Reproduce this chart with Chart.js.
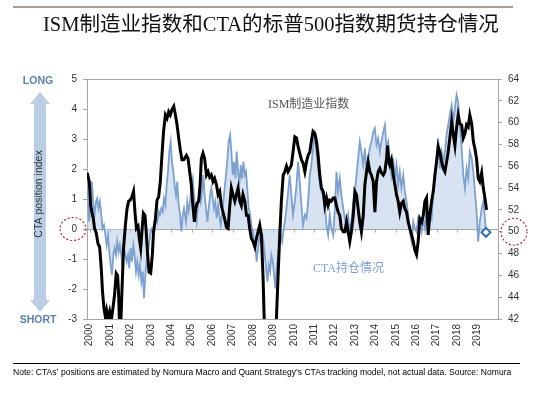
<!DOCTYPE html>
<html>
<head>
<meta charset="utf-8">
<script src="https://cdn.jsdelivr.net/npm/chart.js@4.4.1/dist/chart.umd.min.js"></script>
<style>
  html, body { margin: 0; padding: 0; background: #fff; }
  #wrap { position: relative; width: 550px; height: 393px; }
</style>
</head>
<body>
<div id="wrap"><canvas id="chart"></canvas></div>
<script>
// axis ticks
const yearLabels = [2000, 2001, 2002, 2003, 2004, 2005, 2006, 2007, 2008, 2009,
  2010, 2011, 2012, 2013, 2014, 2015, 2016, 2017, 2018, 2019];
const ctaTicks = [-3, -2, -1, 0, 1, 2, 3, 4, 5];
const ismTicks = [42, 44, 46, 48, 50, 52, 54, 56, 58, 60, 62, 64];

// ISM manufacturing index (right axis)
const ismDates = [1999.88, 1999.98, 2000.05, 2000.11, 2000.18, 2000.24, 2000.32, 2000.41, 2000.49, 2000.57,
  2000.63, 2000.70, 2000.77, 2000.83, 2000.90, 2000.98, 2001.06, 2001.14, 2001.22, 2001.30,
  2001.37, 2001.42, 2001.47, 2001.52, 2001.58, 2001.66, 2001.75, 2001.83, 2001.91, 2001.99,
  2002.07, 2002.15, 2002.22, 2002.29, 2002.37, 2002.43, 2002.50, 2002.56, 2002.63, 2002.71,
  2002.77, 2002.84, 2002.91, 2002.99, 2003.07, 2003.13, 2003.22, 2003.30, 2003.38, 2003.46,
  2003.54, 2003.62, 2003.71, 2003.79, 2003.87, 2003.95, 2004.03, 2004.12, 2004.20, 2004.28,
  2004.36, 2004.44, 2004.52, 2004.61, 2004.74, 2004.82, 2004.90, 2004.98, 2005.06, 2005.13,
  2005.19, 2005.26, 2005.34, 2005.41, 2005.47, 2005.55, 2005.63, 2005.72, 2005.80, 2005.88,
  2005.96, 2006.04, 2006.12, 2006.21, 2006.29, 2006.37, 2006.45, 2006.53, 2006.61, 2006.70,
  2006.78, 2006.86, 2006.94, 2007.02, 2007.11, 2007.19, 2007.27, 2007.35, 2007.43, 2007.51,
  2007.60, 2007.68, 2007.76, 2007.84, 2007.92, 2008.00, 2008.09, 2008.17, 2008.25, 2008.33,
  2008.41, 2008.49, 2008.66, 2008.83, 2008.99, 2009.07, 2009.15, 2009.23, 2009.31, 2009.39,
  2009.48, 2009.56, 2009.64, 2009.72, 2009.80, 2009.88, 2009.96, 2010.05, 2010.13, 2010.21,
  2010.29, 2010.37, 2010.45, 2010.54, 2010.62, 2010.70, 2010.78, 2010.86, 2010.94, 2011.03,
  2011.11, 2011.19, 2011.27, 2011.35, 2011.44, 2011.52, 2011.60, 2011.68, 2011.76, 2011.84,
  2011.93, 2012.01, 2012.09, 2012.17, 2012.25, 2012.33, 2012.42, 2012.50, 2012.58, 2012.66,
  2012.74, 2012.82, 2012.91, 2012.99, 2013.07, 2013.15, 2013.23, 2013.31, 2013.40, 2013.48,
  2013.56, 2013.64, 2013.72, 2013.80, 2013.89, 2013.97, 2014.05, 2014.13, 2014.21, 2014.29,
  2014.38, 2014.46, 2014.54, 2014.59, 2014.65, 2014.70, 2014.78, 2014.87, 2014.95, 2015.03,
  2015.11, 2015.19, 2015.27, 2015.36, 2015.44, 2015.52, 2015.60, 2015.68, 2015.77, 2015.85,
  2015.93, 2016.01, 2016.09, 2016.17, 2016.26, 2016.34, 2016.42, 2016.50, 2016.58, 2016.66,
  2016.75, 2016.83, 2016.91, 2016.99, 2017.07, 2017.15, 2017.24, 2017.32, 2017.40, 2017.48,
  2017.56, 2017.64, 2017.73, 2017.81, 2017.89, 2017.97, 2018.05, 2018.13, 2018.22, 2018.30,
  2018.38, 2018.46, 2018.54, 2018.62, 2018.71, 2018.79, 2018.87, 2018.95, 2019.03, 2019.11,
  2019.20, 2019.28, 2019.36, 2019.44];
const ismValues = [55.4, 54.6, 52.4, 51.8, 51.2, 50.3, 49.9, 48.9, 48.6, 46.6,
  44.5, 43.0, 42.2, 42.8, 42.1, 42.7, 41.9, 43.0, 44.2, 46.2,
  46.0, 44.2, 41.0, 41.2, 44.5, 48.5, 50.6, 52.1, 52.8, 52.9,
  53.2, 53.7, 51.8, 50.3, 50.5, 49.4, 48.5, 50.0, 51.7, 51.5,
  50.0, 47.9, 46.3, 46.2, 47.9, 50.0, 51.2, 52.9, 53.2, 54.6,
  57.0, 59.2, 60.7, 60.4, 61.0, 60.7, 61.2, 61.5, 60.7, 59.8,
  58.6, 57.5, 56.6, 56.6, 57.0, 56.7, 55.5, 54.3, 52.3, 50.9,
  52.1, 52.6, 52.8, 54.3, 56.7, 57.2, 56.7, 55.2, 55.5, 55.0,
  55.2, 54.6, 54.9, 54.3, 53.4, 53.7, 52.4, 51.8, 51.2, 50.4,
  50.3, 52.3, 54.0, 53.4, 52.8, 53.4, 54.0, 52.8, 52.4, 53.4,
  52.8, 51.5, 51.5, 50.3, 49.4, 49.1, 48.6, 49.4, 50.0, 50.6,
  49.7, 46.0, 34.5, 33.0, 34.0, 35.0, 42.2, 46.0, 49.7, 52.8,
  55.2, 55.5, 56.0, 55.5, 55.8, 56.1, 57.3, 58.7, 58.6, 57.8,
  57.2, 56.6, 56.3, 55.5, 56.4, 57.0, 57.3, 58.3, 59.2, 59.0,
  58.3, 57.0, 55.2, 54.0, 53.7, 52.4, 53.1, 52.4, 52.9, 52.8,
  53.1, 53.1, 52.4, 51.8, 51.5, 50.3, 50.0, 50.0, 50.9, 50.0,
  49.1, 50.0, 51.5, 53.7, 53.4, 52.1, 50.9, 50.0, 51.5, 54.3,
  55.5, 56.4, 55.5, 55.2, 54.6, 51.8, 54.6, 55.5, 55.8, 55.4,
  55.2, 55.5, 56.7, 57.9, 56.4, 56.1, 56.6, 55.2, 54.3, 53.4,
  52.8, 51.8, 52.6, 52.8, 52.1, 51.8, 50.9, 50.3, 49.7, 49.1,
  48.3, 47.9, 49.1, 51.2, 50.9, 51.5, 52.8, 53.1, 49.7, 51.5,
  52.8, 53.7, 55.2, 56.4, 57.8, 57.3, 56.4, 55.8, 55.5, 56.4,
  57.3, 58.6, 60.1, 58.9, 57.9, 59.5, 60.7, 59.9, 59.8, 58.6,
  59.0, 59.8, 59.6, 60.7, 59.9, 58.3, 57.6, 56.7, 54.9, 54.6,
  55.4, 54.0, 53.1, 52.0];

// CTA position index (left axis)
const ctaDates = [1999.88, 1999.92, 1999.98, 2000.05, 2000.11, 2000.18, 2000.24, 2000.31, 2000.37, 2000.44,
  2000.50, 2000.57, 2000.63, 2000.70, 2000.77, 2000.83, 2000.90, 2000.96, 2001.03, 2001.09,
  2001.16, 2001.22, 2001.29, 2001.35, 2001.42, 2001.48, 2001.55, 2001.61, 2001.68, 2001.75,
  2001.81, 2001.88, 2001.94, 2002.01, 2002.07, 2002.14, 2002.20, 2002.27, 2002.33, 2002.40,
  2002.46, 2002.53, 2002.60, 2002.66, 2002.73, 2002.79, 2002.86, 2002.92, 2002.99, 2003.05,
  2003.12, 2003.18, 2003.25, 2003.31, 2003.38, 2003.44, 2003.51, 2003.58, 2003.64, 2003.71,
  2003.77, 2003.84, 2003.90, 2003.97, 2004.03, 2004.10, 2004.16, 2004.23, 2004.29, 2004.36,
  2004.43, 2004.49, 2004.56, 2004.62, 2004.72, 2004.78, 2004.85, 2004.92, 2004.98, 2005.05,
  2005.11, 2005.18, 2005.24, 2005.31, 2005.37, 2005.44, 2005.50, 2005.57, 2005.63, 2005.70,
  2005.77, 2005.83, 2005.90, 2005.96, 2006.03, 2006.09, 2006.16, 2006.22, 2006.29, 2006.35,
  2006.42, 2006.48, 2006.55, 2006.61, 2006.68, 2006.75, 2006.81, 2006.88, 2006.94, 2007.01,
  2007.07, 2007.14, 2007.20, 2007.27, 2007.33, 2007.40, 2007.46, 2007.53, 2007.60, 2007.66,
  2007.73, 2007.79, 2007.86, 2007.92, 2007.99, 2008.05, 2008.12, 2008.18, 2008.25, 2008.31,
  2008.38, 2008.45, 2008.51, 2008.58, 2008.64, 2008.71, 2008.77, 2008.84, 2008.90, 2008.97,
  2009.03, 2009.10, 2009.16, 2009.23, 2009.30, 2009.36, 2009.43, 2009.49, 2009.56, 2009.64,
  2009.72, 2009.80, 2009.88, 2009.96, 2010.05, 2010.13, 2010.21, 2010.29, 2010.37, 2010.45,
  2010.54, 2010.62, 2010.70, 2010.78, 2010.86, 2010.94, 2011.03, 2011.11, 2011.19, 2011.27,
  2011.35, 2011.44, 2011.52, 2011.60, 2011.68, 2011.76, 2011.84, 2011.93, 2012.01, 2012.09,
  2012.17, 2012.25, 2012.33, 2012.42, 2012.50, 2012.58, 2012.66, 2012.74, 2012.82, 2012.91,
  2012.99, 2013.07, 2013.15, 2013.23, 2013.31, 2013.40, 2013.48, 2013.56, 2013.64, 2013.72,
  2013.80, 2013.89, 2013.97, 2014.05, 2014.13, 2014.21, 2014.29, 2014.38, 2014.46, 2014.54,
  2014.62, 2014.70, 2014.78, 2014.87, 2014.95, 2015.03, 2015.11, 2015.19, 2015.27, 2015.36,
  2015.44, 2015.52, 2015.60, 2015.68, 2015.77, 2015.85, 2015.93, 2016.01, 2016.09, 2016.17,
  2016.26, 2016.34, 2016.42, 2016.50, 2016.58, 2016.66, 2016.75, 2016.83, 2016.91, 2016.99,
  2017.07, 2017.15, 2017.24, 2017.32, 2017.40, 2017.48, 2017.56, 2017.64, 2017.73, 2017.81,
  2017.89, 2017.97, 2018.05, 2018.13, 2018.22, 2018.30, 2018.38, 2018.46, 2018.54, 2018.62,
  2018.71, 2018.79, 2018.87, 2018.95, 2019.03, 2019.11, 2019.20, 2019.28, 2019.36, 2019.41];
const ctaValues = [1.47, 0.9, 0.24, 1.0, 1.58, 0.8, 0.47, 0.91, 1.02, 0.69,
  0.91, 0.47, 0.02, 0.13, -0.2, -0.53, -0.2, -0.76, -1.2, -1.53,
  -0.87, -0.64, -0.87, -0.42, -0.76, -0.53, -0.87, -1.2, -0.64, -0.87,
  -1.09, -0.87, -1.31, -0.64, -1.09, -0.53, -0.87, -1.42, -1.09, -1.53,
  -1.2, -1.76, -1.42, -2.31, -1.53, -1.09, -0.76, -0.42, -0.09, 0.02,
  -0.09, 0.02, 0.36, 0.24, 0.58, 0.47, 0.69, 0.58, 1.02, 0.8,
  1.47, 1.91, 2.58, 2.91, 2.24, 1.91, 1.47, 1.13, 1.58, 0.8,
  0.47, -0.09, 0.47, 0.69, 0.24, 0.91, 0.58, 0.91, 1.47, 1.69,
  1.13, 0.58, 0.24, 0.8, 1.24, 0.91, 1.24, 1.8, 1.13, 0.69,
  0.24, 0.69, 1.13, 1.36, 1.02, 0.69, 0.91, 0.36, 0.8, 0.47,
  0.13, 0.47, 0.91, 1.36, 1.8, 2.36, 2.91, 3.13, 2.58, 1.8,
  2.24, 1.69, 2.58, 1.91, 1.47, 2.13, 1.69, 2.24, 1.8, 1.91,
  1.24, 0.69, 0.47, 0.13, -0.09, -0.42, -0.64, -1.09, -0.64, -0.31,
  -0.09, -0.2, -0.42, -0.87, -1.31, -1.76, -1.2, -1.42, -0.87, -1.09,
  -1.53, -1.98, -1.31, -0.87, -0.42, -0.2, -0.42, -0.09, 0.24, 0.69,
  1.24, 1.8, 1.13, 0.47, 0.91, 1.47, 2.24, 1.58, 0.8, 0.13,
  0.47, 0.36, 0.91, 1.8, 2.13, 2.69, 3.13, 2.58, 2.02, 1.58,
  1.24, 1.13, 0.8, 0.13, -0.2, 0.47, 0.02, -0.2, 0.69, 1.91,
  1.24, 1.69, 1.13, 0.69, 0.36, 0.13, 0.47, -0.09, 0.24, 0.91,
  1.24, 1.8, 2.36, 2.91, 2.58, 2.13, 2.69, 1.91, 2.36, 2.69,
  2.91, 3.24, 3.36, 2.8, 3.02, 2.58, 2.91, 3.24, 3.47, 2.69,
  2.91, 2.24, 1.8, 2.36, 1.69, 2.13, 1.47, 1.91, 1.36, 1.8,
  1.24, 0.91, 0.47, -0.09, -0.42, 0.24, 0.02, -0.09, 0.36, 0.24,
  -0.09, 0.36, 0.02, 0.69, 0.13, 0.58, 0.36, 1.24, 1.8, 2.36,
  3.02, 2.02, 2.58, 2.24, 2.58, 3.13, 3.47, 3.8, 4.13, 3.58,
  4.02, 4.47, 4.24, 3.47, 2.69, 1.8, 1.36, 2.02, 1.69, 2.58,
  2.36, 1.91, 1.24, 0.58, -0.42, 0.24, 0.69, 0.91, 0.36, -0.11];

const TITLE = 'ISM制造业指数和CTA的标普500指数期货持仓情况';
const NOTE = 'Note: CTAs\u2019 positions are estimated by Nomura Macro and Quant Strategy\u2019s CTAs tracking model, not actual data. Source: Nomura';
const AXIS_GRAY = '#a6a6a6';
const TICK_FONT = { family: '"Liberation Sans", Arial, sans-serif', size: 10 };

function fitFont(ctx, text, family, weight, targetWidth) {
  ctx.font = weight + ' 20px ' + family;
  const size = 20 * targetWidth / ctx.measureText(text).width;
  ctx.font = weight + ' ' + size.toFixed(2) + 'px ' + family;
}

const decor = {
  id: 'decor',
  beforeDatasetsDraw(chart) {
    // small year ticks on the zero line
    const { ctx, scales: { x, y } } = chart;
    const y0 = Math.round(y.getPixelForValue(0)) + 0.5;
    ctx.save();
    ctx.strokeStyle = AXIS_GRAY;
    ctx.lineWidth = 1;
    yearLabels.forEach(v => {
      const px = Math.round(x.getPixelForValue(v)) + 0.5;
      ctx.beginPath();
      ctx.moveTo(px, y0);
      ctx.lineTo(px, y0 + 3);
      ctx.stroke();
    });
    ctx.restore();
  },
  afterDraw(chart) {
    const { ctx, chartArea: area, scales: { y, y2 } } = chart;
    ctx.save();

    // top rule and title
    ctx.strokeStyle = '#b39a94';
    ctx.lineWidth = 2;
    ctx.beginPath(); ctx.moveTo(13, 7); ctx.lineTo(513, 7); ctx.stroke();
    ctx.fillStyle = '#111';
    ctx.textBaseline = 'middle';
    ctx.textAlign = 'left';
    fitFont(ctx, TITLE, '"Liberation Serif", "Noto Sans CJK SC", serif', 'normal', 456);
    ctx.fillText(TITLE, 43, 26);

    // footnote
    ctx.strokeStyle = '#000';
    ctx.lineWidth = 1;
    ctx.beginPath(); ctx.moveTo(13, 363.5); ctx.lineTo(520, 363.5); ctx.stroke();
    fitFont(ctx, NOTE, '"Liberation Sans", Arial, sans-serif', 'normal', 499);
    ctx.fillStyle = '#000';
    ctx.fillText(NOTE, 13, 373);

    // long / short arrow
    const ax = 40;
    ctx.fillStyle = '#b9cde5';
    ctx.beginPath();
    ctx.moveTo(ax, 92);
    ctx.lineTo(ax + 10, 104);
    ctx.lineTo(ax + 6, 104);
    ctx.lineTo(ax + 6, 300);
    ctx.lineTo(ax + 10, 300);
    ctx.lineTo(ax, 312);
    ctx.lineTo(ax - 10, 300);
    ctx.lineTo(ax - 6, 300);
    ctx.lineTo(ax - 6, 104);
    ctx.lineTo(ax - 10, 104);
    ctx.closePath();
    ctx.fill();

    ctx.fillStyle = '#5b80ad';
    ctx.textAlign = 'center';
    ctx.font = 'bold 10.5px "Liberation Sans", Arial, sans-serif';
    ctx.fillText('LONG', 38, 81);
    ctx.fillText('SHORT', 38, 320);

    ctx.save();
    ctx.translate(ax - 1, 194);
    ctx.rotate(-Math.PI / 2);
    ctx.fillStyle = '#333';
    ctx.font = '10.5px "Liberation Sans", Arial, sans-serif';
    ctx.fillText('CTA position index', 0, 0);
    ctx.restore();

    // dashed circles around 0 and 50
    ctx.strokeStyle = '#a8343f';
    ctx.lineWidth = 1.2;
    ctx.setLineDash([2, 2]);
    ctx.beginPath();
    ctx.ellipse(area.left - 14, y.getPixelForValue(0), 13, 11.5, 0, 0, Math.PI * 2);
    ctx.stroke();
    ctx.beginPath();
    ctx.ellipse(area.right + 16, y2.getPixelForValue(50), 13, 13.5, 0, 0, Math.PI * 2);
    ctx.stroke();
    ctx.setLineDash([]);

    // series labels inside the plot
    ctx.textAlign = 'left';
    ctx.font = '12px "Liberation Serif", "Noto Sans CJK SC", serif';
    ctx.fillStyle = '#555';
    ctx.fillText('ISM制造业指数', 268, 105);
    ctx.fillStyle = '#7a9fd5';
    ctx.fillText('CTA持仓情况', 313, 269);

    ctx.restore();
  }
};

new Chart(document.getElementById('chart'), {
  type: 'line',
  data: {
    datasets: [
      {
        label: 'ISM',
        data: ismDates.map((d, i) => ({ x: d, y: ismValues[i] })),
        yAxisID: 'y2',
        borderColor: '#000',
        borderWidth: 3,
        pointRadius: 0,
        fill: false,
        order: 1
      },
      {
        label: 'CTA',
        data: ctaDates.map((d, i) => ({ x: d, y: ctaValues[i] })),
        yAxisID: 'y',
        borderColor: '#7ca1d1',
        borderWidth: 1.8,
        backgroundColor: 'rgba(190, 209, 234, 0.6)',
        fill: 'origin',
        pointRadius: ctx => ctx.dataIndex === ctaValues.length - 1 ? 4.5 : 0,
        pointStyle: 'rectRot',
        pointBorderColor: '#2e6fba',
        pointBackgroundColor: '#fff',
        pointBorderWidth: 2,
        order: 2
      }
    ]
  },
  options: {
    responsive: true,
    maintainAspectRatio: false,
    animation: false,
    layout: { padding: { left: 57, right: 12, top: 79, bottom: 34 } },
    elements: { line: { tension: 0 } },
    plugins: {
      legend: { display: false },
      tooltip: { enabled: false }
    },
    scales: {
      x: {
        type: 'linear',
        min: 1999.87,
        max: 2020,
        afterBuildTicks: s => { s.ticks = yearLabels.map(v => ({ value: v })); },
        afterFit: s => { s.height = 40; },
        ticks: {
          autoSkip: false,
          minRotation: 90,
          maxRotation: 90,
          padding: 5,
          color: '#333',
          font: TICK_FONT,
          callback: v => String(v)
        },
        grid: { drawOnChartArea: false, drawTicks: false },
        border: { color: AXIS_GRAY }
      },
      y: {
        position: 'left',
        min: -3,
        max: 5,
        afterBuildTicks: s => { s.ticks = ctaTicks.map(v => ({ value: v })); },
        afterFit: s => { s.width = 30; },
        ticks: { padding: 6, color: '#333', font: TICK_FONT },
        grid: {
          color: c => (c.tick && (c.tick.value === 0 || c.tick.value === 5)) ? AXIS_GRAY : 'rgba(0,0,0,0)',
          tickColor: AXIS_GRAY,
          tickLength: 4
        },
        border: { color: AXIS_GRAY }
      },
      y2: {
        position: 'right',
        min: 42,
        max: 64,
        afterBuildTicks: s => { s.ticks = ismTicks.map(v => ({ value: v })); },
        afterFit: s => { s.width = 40; },
        ticks: { padding: 6, color: '#333', font: TICK_FONT },
        grid: { drawOnChartArea: false, tickColor: AXIS_GRAY, tickLength: 4 },
        border: { color: AXIS_GRAY }
      }
    }
  },
  plugins: [decor]
});
</script>
</body>
</html>
